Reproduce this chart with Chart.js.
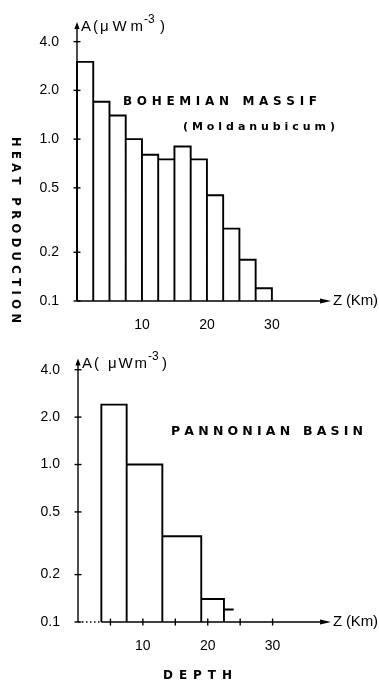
<!DOCTYPE html>
<html>
<head>
<meta charset="utf-8">
<script src="https://cdn.jsdelivr.net/npm/chart.js@4.4.0/dist/chart.umd.min.js"></script>
<style>
  html, body { margin: 0; padding: 0; background: #fff; }
  #wrap { position: relative; width: 379px; height: 682px; overflow: hidden; }
  canvas { position: absolute; left: 0; }
  #topChart { top: 0; }
  #bottomChart { top: 340px; }
</style>
</head>
<body>
<div id="wrap">
  <canvas id="topChart" width="379" height="340"></canvas>
  <canvas id="bottomChart" width="379" height="342"></canvas>
</div>
<script>
// --- data ---
// Bohemian Massif (Moldanubicum), 2.5 km layers
const bohemianEdges = [0, 2.5, 5, 7.5, 10, 12.5, 15, 17.5, 20, 22.5, 25, 27.5, 30];
const bohemianHeat = [3.0, 1.7, 1.4, 1.0, 0.8, 0.75, 0.9, 0.75, 0.45, 0.28, 0.18, 0.12];

// Pannonian Basin
const pannonianEdges = [3.6, 7.5, 13, 19, 22.5];
const pannonianHeat = [2.4, 1.0, 0.35, 0.14];
const pannonianStubDepth = [22.5, 24];
const pannonianStubHeat = [0.12, 0.12];

// axes
const heatTicks = [0.1, 0.2, 0.5, 1.0, 2.0, 4.0];
const depthLabels = [10, 20, 30];
const depthMarksBottom = [5, 10, 15, 20, 25, 30];

const FONT = "'Liberation Sans', Arial, sans-serif";
const TITLE_FONT = "'DejaVu Sans', sans-serif";
const baseHeat = heatTicks[0];

// histogram outline: up, across, down for every layer
function outline(edges, values) {
  const pts = [];
  values.forEach((v, i) => {
    pts.push({x: edges[i], y: baseHeat}, {x: edges[i], y: v},
             {x: edges[i + 1], y: v}, {x: edges[i + 1], y: baseHeat});
  });
  return pts;
}

function spreadText(ctx, text, x0, x1, y) {
  const chars = [...text];
  const w = chars.map(c => ctx.measureText(c).width);
  const total = w.reduce((a, b) => a + b, 0);
  const gap = chars.length > 1 ? (x1 - x0 - total) / (chars.length - 1) : 0;
  let x = x0;
  chars.forEach((c, i) => { ctx.fillText(c, x, y); x += w[i] + gap; });
}

function line(ctx, x0, y0, x1, y1) {
  ctx.beginPath(); ctx.moveTo(x0, y0); ctx.lineTo(x1, y1); ctx.stroke();
}

// axes with arrows, crossing ticks and the lettering
const axesPlugin = {
  id: 'axes',
  afterDraw(chart, args, o) {
    const {ctx, chartArea: a, scales: {x, y}} = chart;
    ctx.save();
    ctx.strokeStyle = '#000';
    ctx.fillStyle = '#000';
    ctx.lineWidth = 1.4;

    // y axis + arrow
    line(ctx, a.left, a.bottom, a.left, a.top + 4);
    ctx.beginPath();
    ctx.moveTo(a.left, a.top); ctx.lineTo(a.left - 2.6, a.top + 7); ctx.lineTo(a.left + 2.6, a.top + 7);
    ctx.closePath(); ctx.fill();

    // x axis (dotted part before the first layer) + arrow
    let solidFrom = a.left;
    if (o.dottedTo != null) {
      solidFrom = x.getPixelForValue(o.dottedTo);
      ctx.setLineDash([1.5, 2.5]);
      line(ctx, a.left, a.bottom, solidFrom, a.bottom);
      ctx.setLineDash([]);
    }
    line(ctx, solidFrom, a.bottom, a.right - 4, a.bottom);
    ctx.beginPath();
    ctx.moveTo(a.right, a.bottom); ctx.lineTo(a.right - 11, a.bottom - 2.6); ctx.lineTo(a.right - 11, a.bottom + 2.6);
    ctx.closePath(); ctx.fill();

    heatTicks.forEach(v => {
      const py = y.getPixelForValue(v);
      line(ctx, a.left - 3.5, py, a.left + 3.5, py);
    });
    (o.xMarks || []).forEach(v => {
      const px = x.getPixelForValue(v);
      line(ctx, px, a.bottom - 3.5, px, a.bottom + 3.5);
    });

    // unit label A (µWm-3)
    ctx.textBaseline = 'alphabetic';
    ctx.textAlign = 'left';
    const u = o.unit;
    ctx.font = `15px ${FONT}`;
    ctx.fillText('A', u.a, u.y);
    ctx.fillText('(', u.paren, u.y);
    spreadText(ctx, 'μWm', u.mu, u.muEnd, u.y);
    ctx.font = `12px ${FONT}`;
    ctx.fillText('-3', u.muEnd + 1, u.y - 8);
    ctx.font = `15px ${FONT}`;
    ctx.fillText(')', u.close, u.y);

    // Z (Km)
    ctx.textBaseline = 'middle';
    spreadText(ctx, 'Z (Km)', a.right + 2, a.right + 47, a.bottom);

    // titles
    o.texts.forEach(t => {
      ctx.font = `bold ${t.size}px ${TITLE_FONT}`;
      if (t.vertical) {
        ctx.save();
        ctx.translate(t.x, t.y0);
        ctx.rotate(Math.PI / 2);
        spreadText(ctx, t.text, 0, t.y1 - t.y0, 0);
        ctx.restore();
      } else {
        spreadText(ctx, t.text, t.x0, t.x1, t.y);
      }
    });
    ctx.restore();
  }
};

function makeChart(id, cfg) {
  return new Chart(document.getElementById(id), {
    type: 'scatter',
    data: { datasets: cfg.datasets.map(d => ({
      data: d, showLine: true, borderColor: '#000', borderWidth: 1.9,
      pointRadius: 0, pointHoverRadius: 0, tension: 0, fill: false, clip: 4
    })) },
    options: {
      responsive: false,
      animation: false,
      layout: { padding: { left: 0, right: 48, top: cfg.top, bottom: 0 } },
      plugins: { legend: { display: false }, tooltip: { enabled: false }, axes: cfg.axes },
      scales: {
        x: {
          type: 'linear', min: 0, max: cfg.xMax,
          afterBuildTicks: s => { s.ticks = cfg.xTicks.map(v => ({value: v})); },
          afterFit: s => { s.height = cfg.xHeight; },
          grid: { display: false }, border: { display: false },
          ticks: {
            color: '#000', font: { family: FONT, size: 14 }, padding: 8,
            maxRotation: 0, autoSkip: false,
            callback: v => depthLabels.includes(v) ? String(v) : ''
          }
        },
        y: {
          type: 'logarithmic', min: baseHeat, max: cfg.yMax,
          afterBuildTicks: s => { s.ticks = heatTicks.map(v => ({value: v})); },
          afterFit: s => { s.width = cfg.yWidth; },
          grid: { display: false }, border: { display: false },
          ticks: {
            color: '#000', font: { family: FONT, size: 14 }, padding: 10,
            autoSkip: false, callback: v => Number(v).toFixed(1)
          }
        }
      }
    },
    plugins: [axesPlugin]
  });
}

makeChart('topChart', {
  datasets: [outline(bohemianEdges, bohemianHeat)],
  top: 22, xHeight: 39, yWidth: 77, xMax: 39.1, yMax: 5.29,
  xTicks: depthLabels,
  axes: {
    unit: { a: 81, paren: 93, mu: 100, muEnd: 143, close: 160, y: 31 },
    texts: [
      { text: 'BOHEMIAN MASSIF', size: 12, x0: 123, x1: 317, y: 102 },
      { text: '(Moldanubicum)', size: 11, x0: 183, x1: 335, y: 127.5 },
      { text: 'HEAT PRODUCTION', size: 11.5, vertical: true, x: 15, y0: 137, y1: 323 }
    ]
  }
});

makeChart('bottomChart', {
  datasets: [
    outline(pannonianEdges, pannonianHeat),
    pannonianStubDepth.map((d, i) => ({x: d, y: pannonianStubHeat[i]}))
  ],
  top: 13, xHeight: 60, yWidth: 78, xMax: 39, yMax: 4.72,
  xTicks: depthMarksBottom,
  axes: {
    dottedTo: pannonianEdges[0],
    xMarks: depthMarksBottom,
    unit: { a: 82, paren: 94, mu: 108, muEnd: 147, close: 162, y: 28 },
    texts: [
      { text: 'PANNONIAN BASIN', size: 12.5, x0: 171, x1: 363, y: 91.7 },
      { text: 'DEPTH', size: 12, x0: 163, x1: 232, y: 336 }
    ]
  }
});
</script>
</body>
</html>
